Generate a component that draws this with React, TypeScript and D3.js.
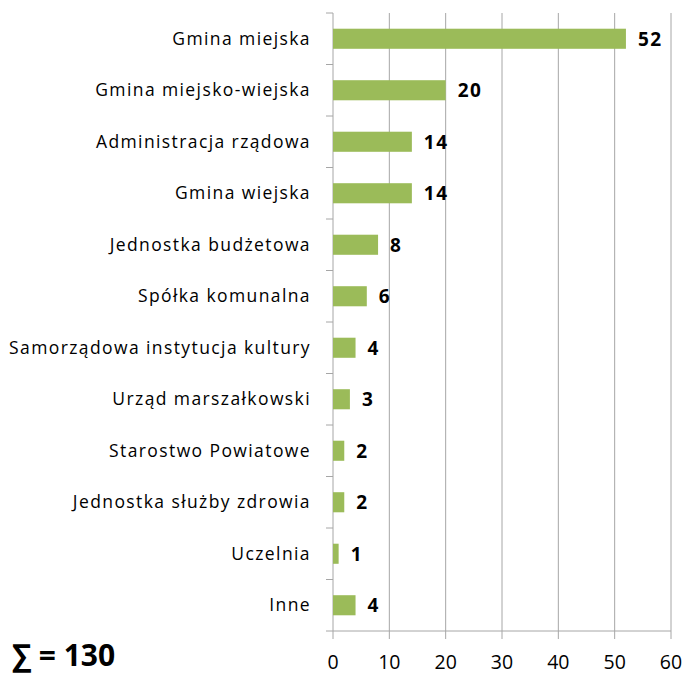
import React from "react";
import * as d3 from "d3";

const categories = [
  "Gmina miejska",
  "Gmina miejsko-wiejska",
  "Administracja rządowa",
  "Gmina wiejska",
  "Jednostka budżetowa",
  "Spółka komunalna",
  "Samorządowa instytucja kultury",
  "Urząd marszałkowski",
  "Starostwo Powiatowe",
  "Jednostka służby zdrowia",
  "Uczelnia",
  "Inne",
];
const values = [52, 20, 14, 14, 8, 6, 4, 3, 2, 2, 1, 4];
const xTicks = [0, 10, 20, 30, 40, 50, 60];
const totalLabel = "∑ = 130";

const W = 686;
const H = 675;
const left = 333;
const right = 671;
const top = 13;
const bottom = 631;
const FONT = "'Open Sans', sans-serif";

export default function App() {
  const x = d3.scaleLinear().domain([0, 60]).range([left, right]);
  const y = d3
    .scaleBand<string>()
    .domain(categories)
    .range([top, bottom])
    .paddingInner(0.61)
    .paddingOuter(0.305);
  const bandStep = (bottom - top) / categories.length;
  const boundaries = d3.range(categories.length + 1).map((i) => top + i * bandStep);

  return (
    <svg
      width={W}
      height={H}
      style={{ position: "absolute", left: 0, top: 0, background: "#fff" }}
      fontFamily={FONT}
    >
      {xTicks.map((t) => (
        <line key={"g" + t} x1={x(t)} x2={x(t)} y1={top} y2={bottom + 8} stroke="#a6a6a6" strokeWidth={1} />
      ))}
      <line x1={x(0)} x2={x(60)} y1={bottom} y2={bottom} stroke="#a6a6a6" strokeWidth={1} />
      {boundaries.map((b, i) => (
        <line key={"yt" + i} x1={x(0) - 7} x2={x(0)} y1={b} y2={b} stroke="#a6a6a6" strokeWidth={1} />
      ))}
      {categories.map((c, i) => (
        <rect
          key={c}
          x={x(0)}
          y={y(c)!}
          width={x(values[i]) - x(0)}
          height={y.bandwidth()}
          fill="#9bbb59"
        />
      ))}
      {categories.map((c, i) => (
        <text
          key={"v" + c}
          x={x(values[i]) + 12}
          y={y(c)! + y.bandwidth() / 2}
          dy="0.36em"
          fontSize={19}
          fontWeight="bold"
          letterSpacing={1.5}
          fill="#000"
        >
          {values[i]}
        </text>
      ))}
      {categories.map((c) => (
        <text
          key={"c" + c}
          x={311}
          y={y(c)! + y.bandwidth() / 2}
          dy="0.35em"
          textAnchor="end"
          fontSize={17.5}
          letterSpacing={1.4}
          fill="#000"
        >
          {c}
        </text>
      ))}
      {xTicks.map((t) => (
        <text key={"xl" + t} x={x(t)} y={662} dy="0.36em" textAnchor="middle" fontSize={19.5} fill="#000">
          {t}
        </text>
      ))}
      <text x={12} y={666} fontSize={30} fontWeight="bold" fill="#000">
        {totalLabel}
      </text>
    </svg>
  );
}
